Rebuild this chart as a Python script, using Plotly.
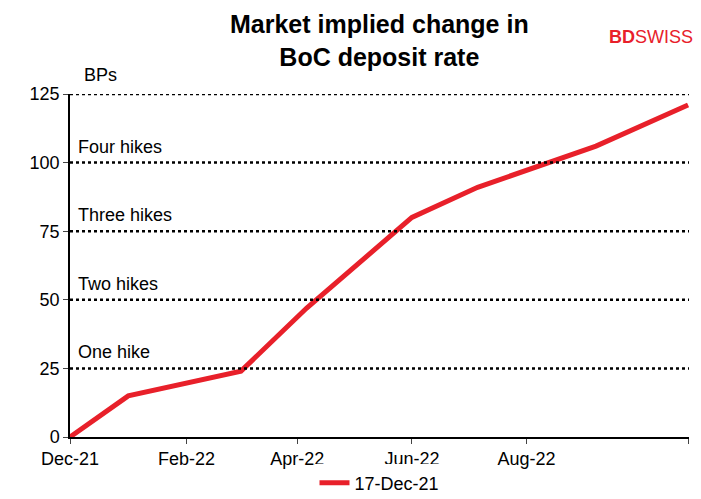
import plotly.graph_objects as go

dates = ["2021-12-01","2022-01-01","2022-03-02","2022-04-06","2022-06-01","2022-07-06","2022-09-07","2022-10-26"]
values = [0, 15, 24, 47, 80, 91, 106, 121]
tick_dates = ["2021-12-01","2022-02-01","2022-04-01","2022-06-01","2022-08-01","2022-10-26"]
tick_text = ["Dec-21","Feb-22","Apr-22","Jun-22","Aug-22","Oct-22"]
hike_levels = [25, 50, 75, 100, 125]
hike_labels = ["One hike","Two hikes","Three hikes","Four hikes"]

fig = go.Figure()
fig.add_trace(go.Scatter(x=dates, y=values, mode="lines", name="17-Dec-21",
                         line=dict(color="#E8202A", width=5)))
for lv in hike_levels:
    fig.add_shape(type="line", xref="paper", x0=0, x1=1, y0=lv, y1=lv,
                  line=dict(color="black", width=2.5, dash="dot"))
for lv, lab in zip(hike_levels, hike_labels):
    fig.add_annotation(x=0.01, xref="paper", y=lv, yshift=4, text=lab, showarrow=False,
                       xanchor="left", yanchor="bottom", font=dict(size=18, color="black"))
fig.add_annotation(x=0.02, xref="paper", y=1.09, yref="paper", text="BPs", showarrow=False,
                   xanchor="left", font=dict(size=18, color="black"))
fig.add_annotation(x=0.5, xref="paper", y=1.25, yref="paper", showarrow=False,
                   text="<b>Market implied change in<br>BoC deposit rate</b>",
                   font=dict(size=25, color="black"))
fig.add_annotation(x=1.01, xref="paper", y=1.2, yref="paper", showarrow=False, xanchor="right",
                   text="<b>BD</b>SWISS", font=dict(size=18, color="#E8202A"))
fig.update_layout(
    width=701, height=499, plot_bgcolor="white", paper_bgcolor="white",
    margin=dict(l=62, r=20, t=86, b=70, autoexpand=False),
    font=dict(family="Liberation Sans, Arial", size=18, color="black"),
    showlegend=True,
    legend=dict(orientation="h", x=0.5, xanchor="center", y=-0.08, yanchor="top",
                font=dict(size=18)),
    xaxis=dict(type="date", range=["2021-12-01","2022-10-26 12:00"], tickvals=tick_dates,
               ticktext=tick_text, showgrid=False, showline=True, linecolor="black",
               linewidth=1.5, ticks="outside", ticklen=5, zeroline=False),
    yaxis=dict(range=[0,125], tickvals=[0,25,50,75,100,125], showgrid=False,
               showline=True, linecolor="black", linewidth=1.5, ticks="outside",
               ticklen=5, zeroline=False),
)
fig.write_html("out.html")
